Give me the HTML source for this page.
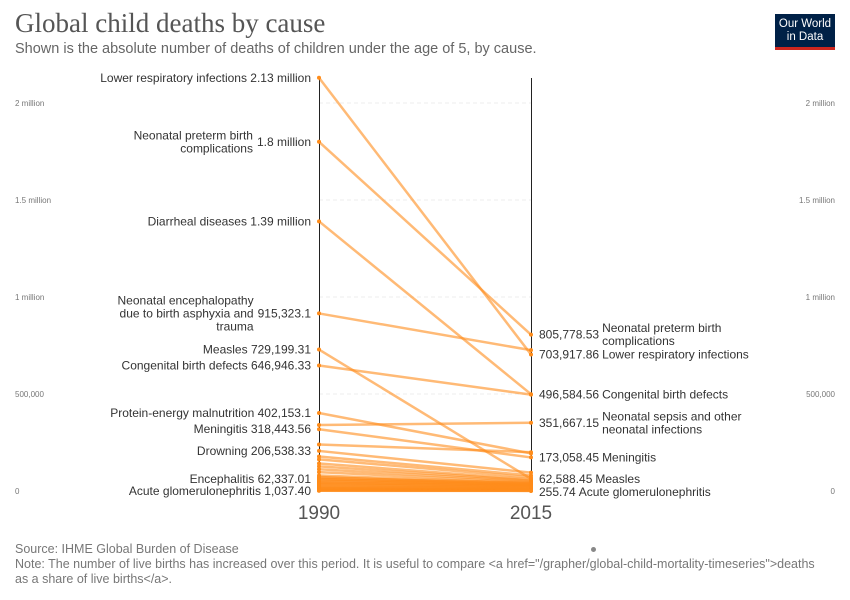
<!DOCTYPE html>
<html><head><meta charset="utf-8"><style>
body{margin:0;width:850px;height:600px;background:#fff;font-family:"Liberation Sans",sans-serif;overflow:hidden;position:relative}
.t{position:absolute;white-space:nowrap}
</style></head><body>
<div class="t" style="left:15px;top:8px;font-family:'Liberation Serif',serif;font-size:27px;color:#555">Global child deaths by cause</div>
<div class="t" style="left:15px;top:41px;font-size:14.5px;color:#666">Shown is the absolute number of deaths of children under the age of 5, by cause.</div>
<div style="position:absolute;left:775px;top:14px;width:60px;height:36px;background:#002147;border-bottom:3px solid #ce261e;box-sizing:border-box;color:#fff;font-size:11.5px;line-height:13px;text-align:center;padding-top:4px">Our World<br>in Data</div>
<svg id="c" width="850" height="600" style="position:absolute;left:0;top:0"></svg>
<div class="t" style="left:15px;top:542px;font-size:12.5px;color:#777">Source: IHME Global Burden of Disease</div>
<div class="t" style="left:15px;top:557px;font-size:12.5px;color:#777;line-height:14.5px">Note: The number of live births has increased over this period. It is useful to compare &lt;a href="/grapher/global-child-mortality-timeseries"&gt;deaths<br>as a share of live births&lt;/a&gt;.</div>
<div style="position:absolute;left:591px;top:547px;width:5px;height:5px;border-radius:50%;background:#888"></div>
<script>
const causes=["Lower respiratory infections","Neonatal preterm birth complications","Diarrheal diseases","Neonatal encephalopathy due to birth asphyxia and trauma","Measles","Congenital birth defects","Protein-energy malnutrition","Meningitis","Neonatal sepsis and other neonatal infections","Drowning","Other A","Other B","Other C","Other D","Other E","Other F","Other G","Other H","Other I","Other J","Other K","Other L","Other M","Encephalitis","Other N","Other O","Acute glomerulonephritis","Other P","Other Q","Other R","Other S","Other T","Other U","Other V","Other W","Other X","Other Y","Other Z","Other AA","Other AB","Other AC"];
const v1990=[2130000,1800000,1390000,915323.1,729199.31,646946.33,402153.1,318443.56,340000,206538.33,240000,178000,163000,142000,127000,112000,97000,80000,72000,55000,45000,35000,25000,62337.01,15000,8000,1037.4,68000,60000,50000,42000,38000,30000,22000,18000,12000,10000,6000,4000,3000,2000];
const v2015=[703917.86,805778.53,499000,726000,62588.45,496584.56,194000,173058.45,351667.15,95000,200000,80000,70000,60000,55000,50000,45000,40000,35000,30000,25000,20000,15000,30000,10000,5000,255.74,42000,38000,33000,28000,24000,20000,16000,12000,9000,7000,4000,3000,2000,1000];
const axisTicks=[0,500000,1000000,1500000,2000000];
const axisLabels=["0","500,000","1 million","1.5 million","2 million"];
const years=["1990","2015"];
const leftLabels=[[0,["Lower respiratory infections 2.13 million"]],[1,["Neonatal preterm birth","complications"],"1.8 million"],[2,["Diarrheal diseases 1.39 million"]],[3,["Neonatal encephalopathy","due to birth asphyxia and","trauma"],"915,323.1"],[4,["Measles 729,199.31"]],[5,["Congenital birth defects 646,946.33"]],[6,["Protein-energy malnutrition 402,153.1"]],[7,["Meningitis 318,443.56"]],[9,["Drowning 206,538.33"]],[23,["Encephalitis 62,337.01"]],[26,["Acute glomerulonephritis 1,037.40"]]];
const rightLabels=[[1,"805,778.53",["Neonatal preterm birth","complications"]],[0,"703,917.86",["Lower respiratory infections"]],[5,"496,584.56",["Congenital birth defects"]],[8,"351,667.15",["Neonatal sepsis and other","neonatal infections"]],[7,"173,058.45",["Meningitis"]],[4,"62,588.45",["Measles"]],[26,"255.74",["Acute glomerulonephritis"]]];
const svg=document.getElementById('c'),NS='http://www.w3.org/2000/svg';
const y=v=>491-v*194/1e6, X1=319, X2=531;
function mk(t,a,p){const e=document.createElementNS(NS,t);for(const k in a)e.setAttribute(k,a[k]);(p||svg).appendChild(e);return e;}
axisTicks.forEach((t,i)=>{
 let a=mk('text',{x:15,y:y(t)+3,'font-size':8,fill:'#777'});a.textContent=axisLabels[i];
 
 
 let b=mk('text',{x:835,y:y(t)+3,'font-size':8,fill:'#777','text-anchor':'end'});b.textContent=axisLabels[i];
 
 
 if(t>0){const g=mk('line',{x1:X1,x2:X2,y1:y(t),y2:y(t),stroke:'#eee','stroke-dasharray':'4,3'});
 
 }
});
mk('line',{x1:X1+0.5,x2:X1+0.5,y1:78,y2:491,stroke:'#222','stroke-width':1});
mk('line',{x1:X2+0.5,x2:X2+0.5,y1:78,y2:491,stroke:'#222','stroke-width':1});
years.forEach((yr,i)=>{const t=mk('text',{x:i?X2:X1,y:519,'font-size':19,fill:'#555','text-anchor':'middle'});t.textContent=yr;
 
 });
causes.forEach((c,i)=>{
 const l=mk('line',{x1:X1,y1:y(v1990[i]),x2:X2,y2:y(v2015[i]),stroke:'#ff8c1a','stroke-opacity':0.6,'stroke-width':2.5});
 
 
 mk('circle',{cx:X1,cy:y(v1990[i]),r:2,fill:'#ff8c1a'});
 mk('circle',{cx:X2,cy:y(v2015[i]),r:2,fill:'#ff8c1a'});
});
leftLabels.forEach(([i,lines,val])=>{
 const cy=y(v1990[i]);const n=lines.length;
 const g=mk('g',{});
 
 
 if(val){const vt=mk('text',{x:311,y:cy+4,'font-size':12,fill:'#333','text-anchor':'end'},g);vt.textContent=val;
  const w=vt.getComputedTextLength();
  lines.forEach((s,k)=>{const t=mk('text',{x:311-w-4,y:cy+4+(k-(n-1)/2)*13,'font-size':12,fill:'#333','text-anchor':'end'},g);t.textContent=s;});}
 else{const t=mk('text',{x:311,y:cy+4,'font-size':12,fill:'#333','text-anchor':'end'},g);t.textContent=lines[0];}
});
rightLabels.forEach(([i,val,lines])=>{
 const cy=y(v2015[i])+(i==26?1:0);const n=lines.length;
 const g=mk('g',{});
 
 
 const vt=mk('text',{x:539,y:cy+4,'font-size':12,fill:'#333'},g);vt.textContent=val;
 const w=vt.getComputedTextLength();
 lines.forEach((s,k)=>{const t=mk('text',{x:539+w+3,y:cy+4+(k-(n-1)/2)*13,'font-size':12,fill:'#333'},g);t.textContent=s;});
});
</script>
</body></html>
